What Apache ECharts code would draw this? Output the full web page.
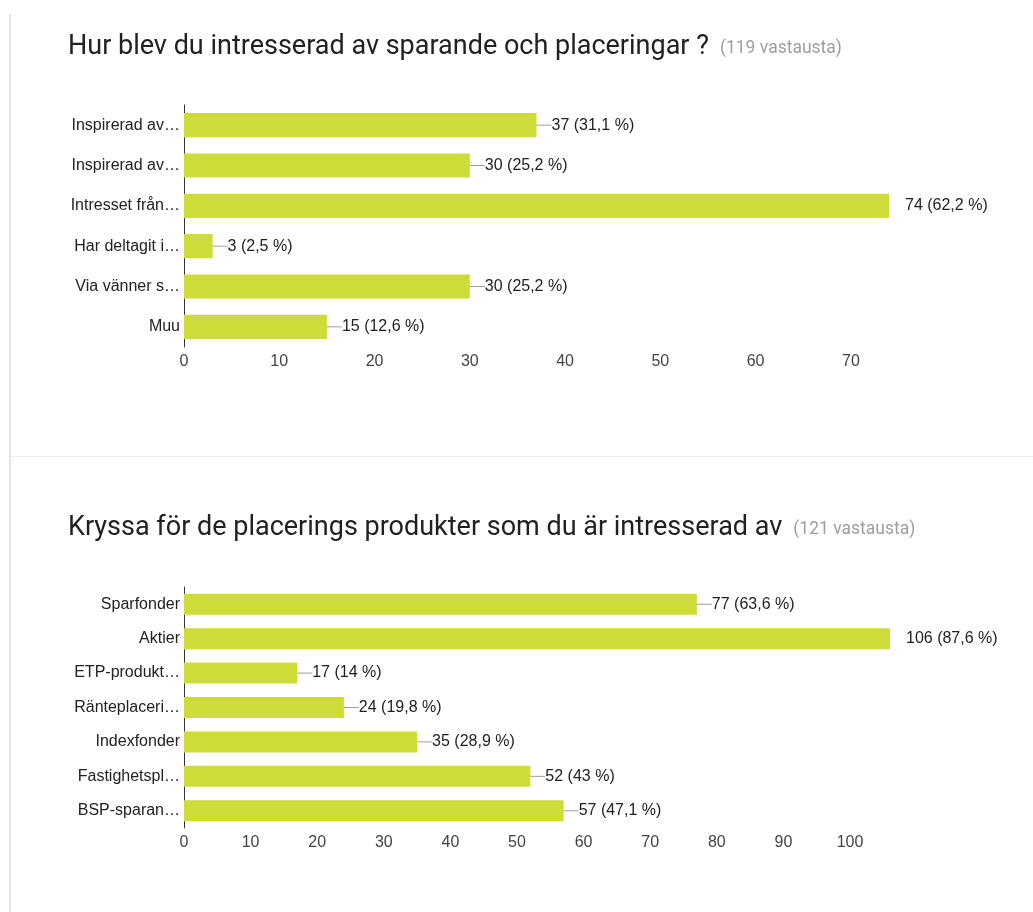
<!DOCTYPE html>
<html>
<head>
<meta charset="utf-8">
<script src="https://cdn.jsdelivr.net/npm/echarts@6/dist/echarts.min.js"></script>
<style>
  html, body { margin: 0; padding: 0; background: #fff; }
  #main { width: 1033px; height: 912px; }
</style>
</head>
<body>
<div id="main"></div>
<script>
// fråga 1
const cats1 = ['Inspirerad av…', 'Inspirerad av…', 'Intresset från…', 'Har deltagit i…', 'Via vänner s…', 'Muu']
const vals1 = [37, 30, 74, 3, 30, 15]
const pct1 = ['31,1', '25,2', '62,2', '2,5', '25,2', '12,6']
// fråga 2
const cats2 = ['Sparfonder', 'Aktier', 'ETP-produkt…', 'Ränteplaceri…', 'Indexfonder', 'Fastighetspl…', 'BSP-sparan…']
const vals2 = [77, 106, 17, 24, 35, 52, 57]
const pct2 = ['63,6', '87,6', '14', '19,8', '28,9', '43', '47,1']

const barColor = '#cddc39'
const chartFont = 'Liberation Sans, Arial, sans-serif'

function makeLabel(vals, pct) {
  const max = Math.max(...vals)
  return {
    show: true,
    position: 'right',
    distance: 0,
    formatter: (p) => {
      // längsta stapeln får ingen streck-linje
      const lead = p.value === max ? '{gap|}' : '{ln|}'
      return lead + '{v|' + p.value + ' (' + pct[p.dataIndex] + ' %)}'
    },
    rich: {
      ln: { width: 15, height: 1, backgroundColor: '#9e9e9e', verticalAlign: 'middle' },
      gap: { width: 16, height: 1 },
      v: { fontSize: 16, color: '#222', fontFamily: chartFont }
    }
  }
}

function yAxis(idx, cats) {
  return {
    gridIndex: idx,
    type: 'category',
    inverse: true,
    data: cats,
    axisLine: { show: true, lineStyle: { color: '#333', width: 1 } },
    axisTick: { show: false },
    axisLabel: { margin: 4, fontSize: 16, color: '#222', fontFamily: chartFont }
  }
}

function xAxis(idx, max) {
  return {
    gridIndex: idx,
    type: 'value',
    min: 0,
    max: max,
    interval: 10,
    axisLine: { show: false },
    axisTick: { show: false },
    splitLine: { show: false },
    axisLabel: { margin: 7, fontSize: 16, color: '#444', fontFamily: chartFont, showMaxLabel: false }
  }
}

const titleRich = {
  t: { fontSize: 27, fontWeight: 'normal', color: '#212121', fontFamily: 'Roboto', lineHeight: 33 },
  c: { fontSize: 17.5, fontWeight: 'normal', color: '#9e9e9e', fontFamily: 'Roboto', padding: [2, 0, 0, 6] }
}

const myChart = echarts.init(document.getElementById('main'))
const option = {
  animation: false,
  title: [
    { text: '{t|Hur blev du intresserad av sparande och placeringar ?} {c|(119 vastausta)}', left: 68, top: 31, padding: 0, textStyle: { fontWeight: 'normal', rich: titleRich } },
    { text: '{t|Kryssa för de placerings produkter som du är intresserad av} {c|(121 vastausta)}', left: 68, top: 512, padding: 0, textStyle: { fontWeight: 'normal', rich: titleRich } }
  ],
  graphic: [
    { type: 'rect', shape: { x: 9, y: 14, width: 2, height: 900 }, style: { fill: '#e6e6de' } },
    { type: 'rect', shape: { x: 11, y: 456, width: 1022, height: 1 }, style: { fill: '#ececec' } }
  ],
  grid: [
    { left: 184, top: 105, width: 705, height: 242 },
    { left: 184, top: 587, width: 706, height: 241 }
  ],
  xAxis: [xAxis(0, 74), xAxis(1, 106)],
  yAxis: [yAxis(0, cats1), yAxis(1, cats2)],
  series: [
    {
      type: 'bar', xAxisIndex: 0, yAxisIndex: 0, data: vals1,
      barCategoryGap: '40%',
      itemStyle: { color: barColor },
      label: makeLabel(vals1, pct1)
    },
    {
      type: 'bar', xAxisIndex: 1, yAxisIndex: 1, data: vals2,
      barCategoryGap: '39%',
      itemStyle: { color: barColor },
      label: makeLabel(vals2, pct2)
    }
  ]
}
myChart.setOption(option)
</script>
</body>
</html>
